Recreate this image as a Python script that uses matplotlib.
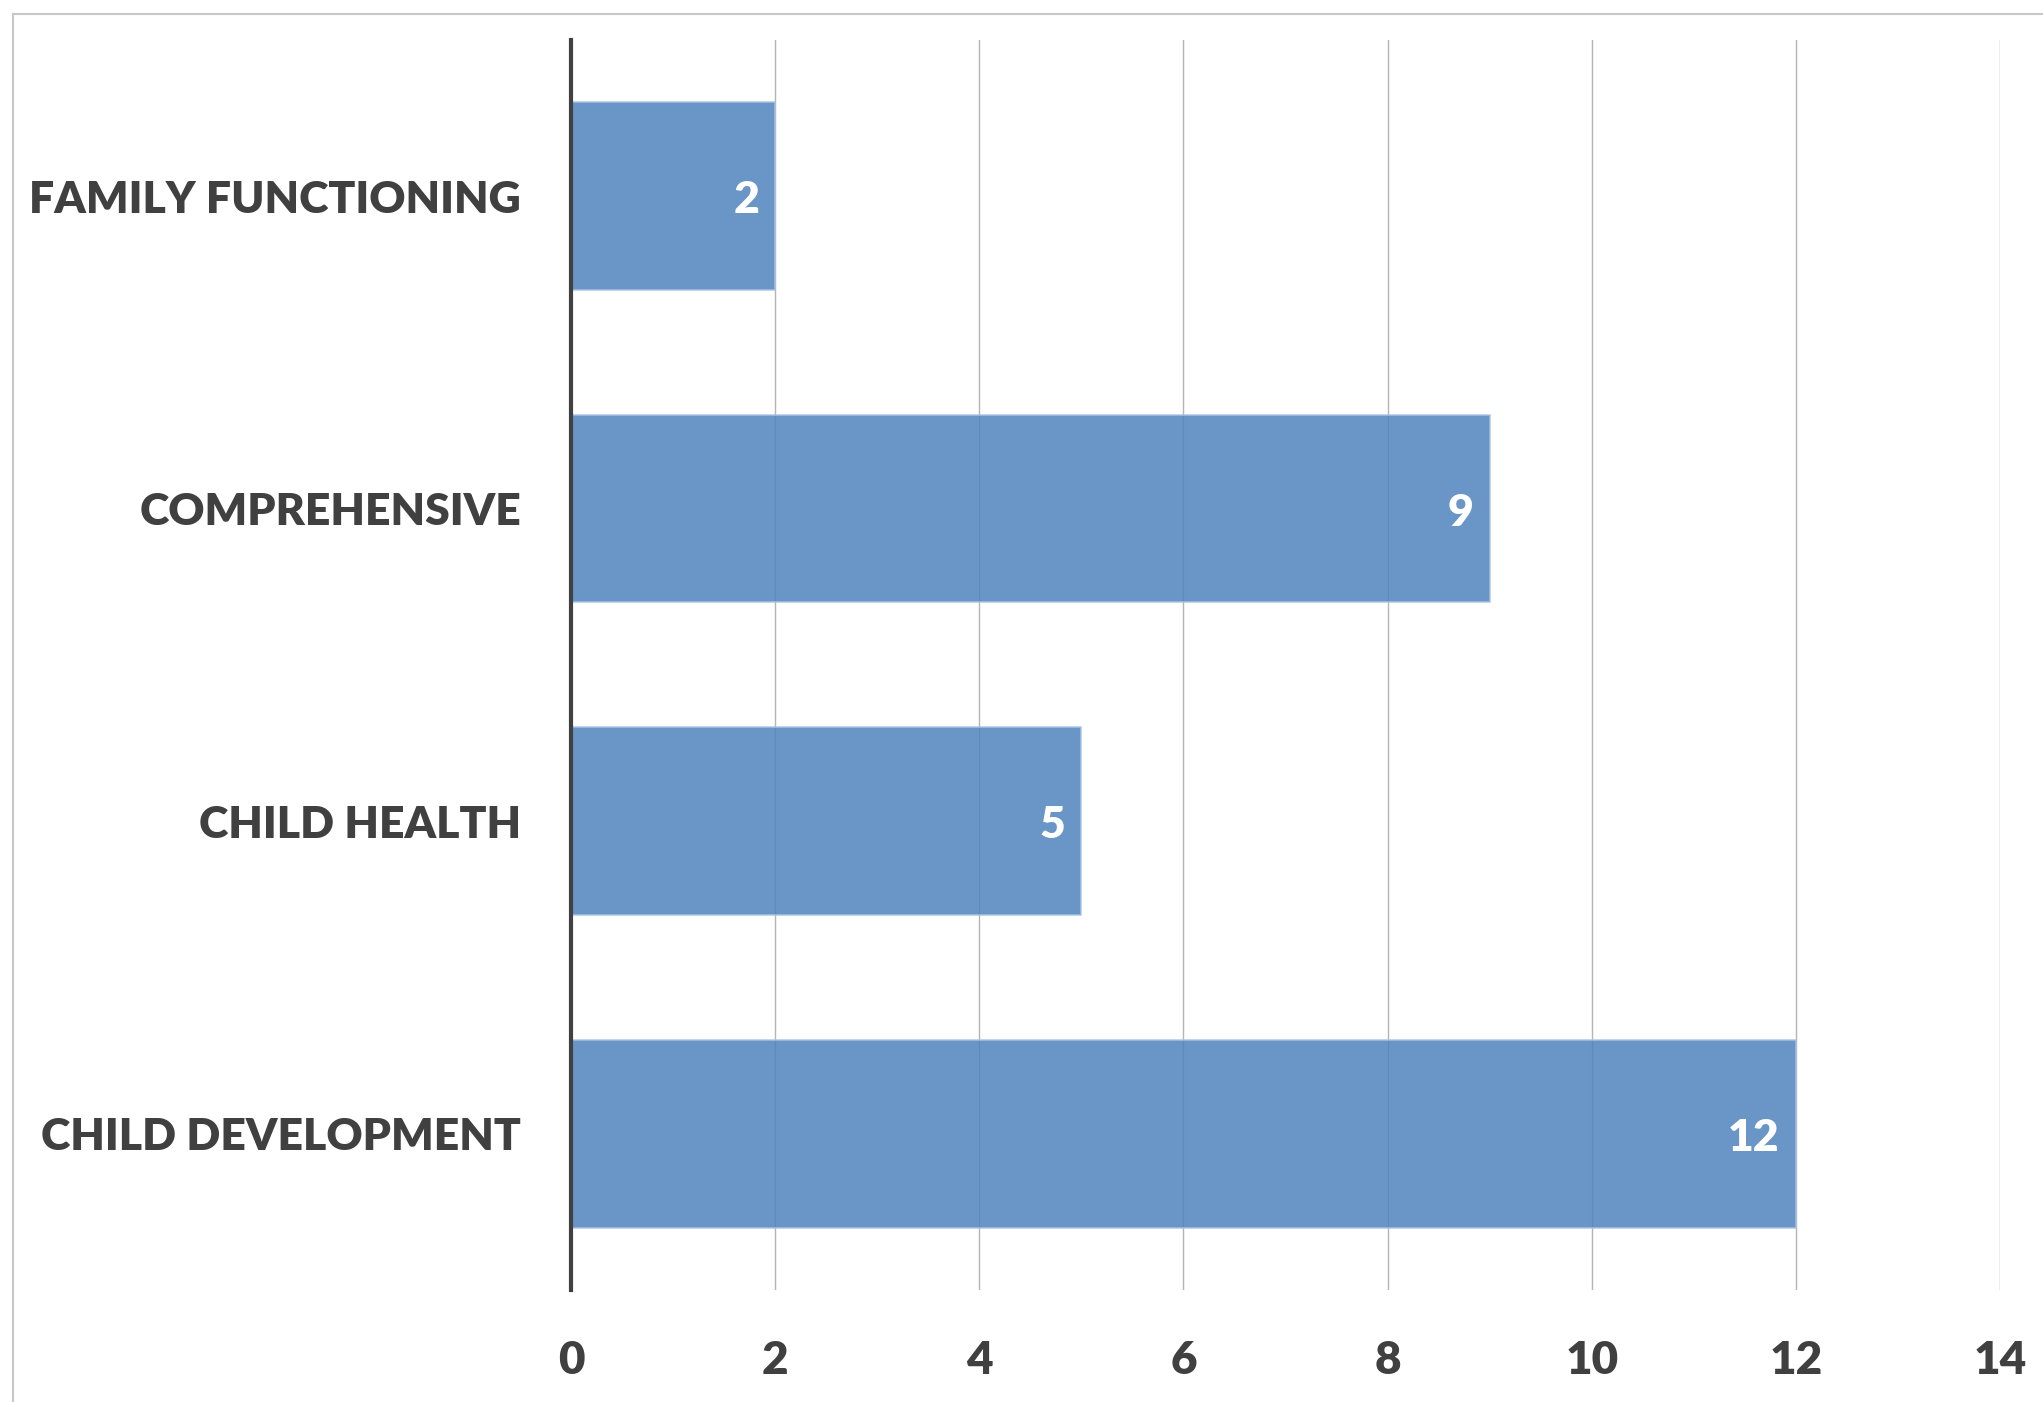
import matplotlib
matplotlib.use("Agg")
import matplotlib.pyplot as plt
from matplotlib.lines import Line2D

categories = ["CHILD DEVELOPMENT", "CHILD HEALTH", "COMPREHENSIVE", "FAMILY FUNCTIONING"]
values = [12, 5, 9, 2]
xticks = [0, 2, 4, 6, 8, 10, 12, 14]

plt.rcParams['font.family'] = ['Lato', 'DejaVu Sans']

W, H = 2043, 1402
fig = plt.figure(figsize=(W / 100, H / 100), dpi=100)
ax = fig.add_axes([571 / W, 1 - 1290 / H, (2000 - 571) / W, (1290 - 40) / H])

FW = 'heavy'
ypos = list(range(len(categories)))
bars = ax.barh(ypos, values, height=0.6, color='#5083BD', alpha=0.85,
               edgecolor='#A9C4E4', linewidth=1.2, zorder=3)

for y, v in zip(ypos, values):
    ax.annotate(str(v), xy=(v, y), xytext=(-16, -4), textcoords='offset pixels',
                ha='right', va='center', color='white', fontsize=32,
                fontweight=FW, zorder=5)

ax.set_xlim(0, 14)
ax.set_ylim(-0.5, 3.5)
ax.set_xticks(xticks)
ax.set_xticklabels([str(t) for t in xticks])
ax.set_yticks(ypos)
ax.set_yticklabels(categories)
ax.tick_params(axis='x', length=0, pad=36, labelsize=33, labelcolor='#404040')
ax.tick_params(axis='y', length=0, pad=36, labelsize=32, labelcolor='#404040')
for lbl in ax.get_xticklabels() + ax.get_yticklabels():
    lbl.set_fontweight(FW)

ax.grid(axis='x', color='#B4B4B4', linewidth=1.0, zorder=0)
ax.grid(axis='y', visible=False)
ax.set_axisbelow(True)
for s in ['top', 'right', 'bottom']:
    ax.spines[s].set_visible(False)
ax.spines['left'].set_color('#404040')
ax.spines['left'].set_linewidth(3.0)
ax.spines['left'].set_zorder(6)

# outer chart border (top and left visible)
fig.add_artist(Line2D([13 / W, 1.0], [1 - 14 / H, 1 - 14 / H], color='#C8C8C8', linewidth=1.5))
fig.add_artist(Line2D([13 / W, 13 / W], [1 - 14 / H, 0.0], color='#C8C8C8', linewidth=1.5))

fig.savefig('out.png', dpi=100)
